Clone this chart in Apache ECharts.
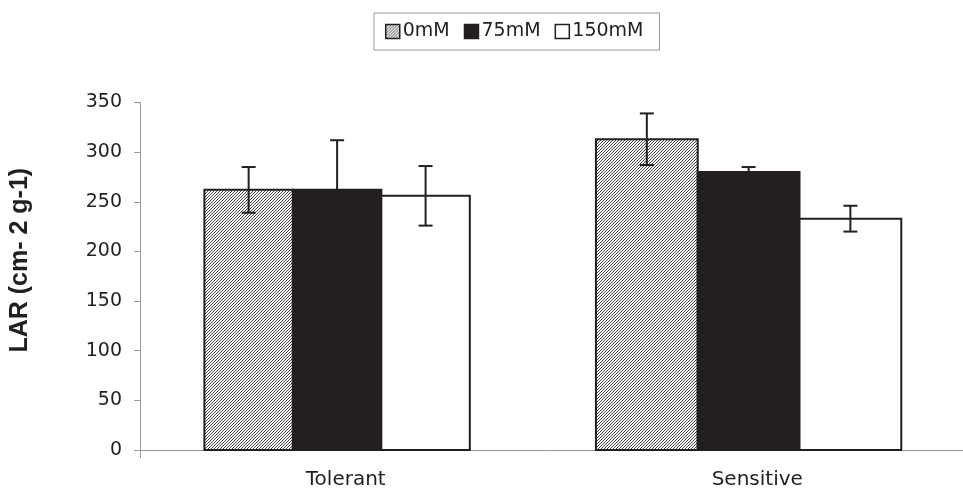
<!DOCTYPE html>
<html>
<head>
<meta charset="utf-8">
<script src="https://cdn.jsdelivr.net/npm/echarts@6/dist/echarts.min.js"></script>
<style>
html,body{margin:0;padding:0;background:#fff;}
#chart{width:963px;height:492px;}
</style>
</head>
<body>
<div id="chart"></div>
<script>
// ---- data ----
const categories = ['Tolerant', 'Sensitive'];
const seriesNames = ['0mM', '75mM', '150mM'];
const values0 = [262, 313];
const errors0 = [23, 26];
const values75 = [262, 280];
const errors75 = [50, 5];
const values150 = [256, 233];
const errors150 = [30, 13];
const yTicks = [0, 50, 100, 150, 200, 250, 300, 350];

// ---- styling / layout ----
const INK = '#231f20';
const groupFrac = [0.645, 0.742];   // group width as fraction of category band
const groupShift = -0.021;          // group centre shift as fraction of band

function makeHatch() {
  const c = document.createElement('canvas');
  c.width = 3; c.height = 3;
  const ctx = c.getContext('2d');
  ctx.fillStyle = '#f6f6f6';
  ctx.fillRect(0, 0, 3, 3);
  ctx.strokeStyle = '#3a3a3a';
  ctx.lineWidth = 0.9;
  ctx.beginPath();
  for (let k = -1; k <= 2; k++) {
    ctx.moveTo(k * 3 - 1, 4);
    ctx.lineTo(k * 3 + 4, -1);
  }
  ctx.stroke();
  return c;
}
const hatch = { image: makeHatch(), repeat: 'repeat' };
const fills = [hatch, INK, '#ffffff'];

function makeRender(k) {
  return function (params, api) {
    const ci = api.value(0);
    const v = api.value(1);
    const e = api.value(2);
    const base = api.coord([ci, 0]);
    const top = api.coord([ci, v]);
    const cw = api.size([1, 0])[0];
    const gw = cw * groupFrac[ci];
    const bw = gw / 3;
    const left = base[0] + cw * groupShift - gw / 2 + k * bw;
    const xc = left + bw / 2;
    const yHi = api.coord([ci, v + e])[1];
    const yLo = api.coord([ci, v - e])[1];
    const cap = 7;
    const ls = { stroke: INK, lineWidth: 2 };
    return {
      type: 'group',
      children: [
        { type: 'rect', shape: { x: left, y: top[1], width: bw, height: base[1] - top[1] },
          style: { fill: fills[k], stroke: INK, lineWidth: 2 } },
        { type: 'line', shape: { x1: xc, y1: yHi, x2: xc, y2: yLo }, style: ls },
        { type: 'line', shape: { x1: xc - cap, y1: yHi, x2: xc + cap, y2: yHi }, style: ls },
        { type: 'line', shape: { x1: xc - cap, y1: yLo, x2: xc + cap, y2: yLo }, style: ls }
      ]
    };
  };
}

function mkData(vals, errs) {
  return categories.map((c, i) => [i, vals[i], errs[i]]);
}
const allVals = [values0, values75, values150];
const allErrs = [errors0, errors75, errors150];

const chart = echarts.init(document.getElementById('chart'), null, { renderer: 'canvas' });
const FONT = 'DejaVu Sans, sans-serif';
const NAMEFONT = 'Liberation Sans, Arial, sans-serif';

chart.setOption({
  backgroundColor: '#ffffff',
  animation: false,
  textStyle: { fontFamily: FONT },
  legend: {
    left: 374, top: 13,
    padding: [9, 16, 9, 11],
    itemWidth: 14, itemHeight: 14, itemGap: 14,
    borderColor: '#999', borderWidth: 1,
    textStyle: { fontSize: 19, color: INK, fontFamily: FONT, padding: [0, 0, 0, -2] },
    data: seriesNames.map((n, k) => ({
      name: n, icon: 'rect',
      itemStyle: { color: fills[k], borderColor: INK, borderWidth: 1.5 }
    }))
  },
  grid: { left: 134, right: 0, top: 102.5, bottom: 42, containLabel: false },
  xAxis: {
    type: 'category',
    data: categories,
    axisLine: { lineStyle: { color: '#999', width: 1 } },
    axisTick: { show: true, length: 8, interval: function (i) { return i === 0; }, lineStyle: { color: '#999' } },
    axisLabel: { fontSize: 20, color: INK, margin: 20, fontFamily: FONT }
  },
  yAxis: {
    type: 'value',
    min: yTicks[0], max: yTicks[yTicks.length - 1], interval: 50,
    name: 'LAR (cm- 2 g-1)',
    nameLocation: 'middle',
    nameGap: 107,
    nameTextStyle: { fontSize: 25, fontWeight: 'bold', color: INK, fontFamily: NAMEFONT, padding: [0, 0, 0, 32] },
    axisLine: { show: true, lineStyle: { color: '#999', width: 1 } },
    axisTick: { show: true, length: 6, lineStyle: { color: '#999' } },
    splitLine: { show: false },
    axisLabel: { fontSize: 19, color: INK, margin: 18, fontFamily: FONT }
  },
  series: seriesNames.map((n, k) => ({
    name: n,
    type: 'custom',
    renderItem: makeRender(k),
    itemStyle: { color: fills[k], borderColor: INK },
    encode: { x: 0, y: 1 },
    data: mkData(allVals[k], allErrs[k])
  }))
});
</script>
</body>
</html>
